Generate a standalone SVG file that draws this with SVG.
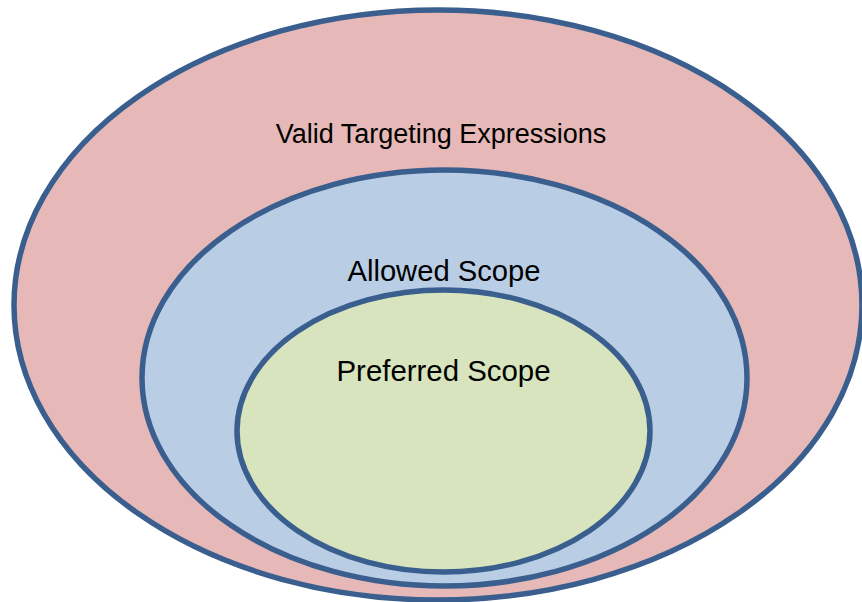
<svg xmlns="http://www.w3.org/2000/svg" width="862" height="602" viewBox="0 0 862 602">
<style>
.e{stroke:#3a5f8f;stroke-width:5.5}
.t{font-family:"Liberation Sans",Arial,sans-serif;fill:#000;text-anchor:middle}
</style>
<rect width="862" height="602" fill="#fff"/>
<g id="valid">
<ellipse class="e" cx="438" cy="305" rx="424" ry="295" fill="#e6b8b7"/>
<text class="t" x="441" y="143" font-size="27">Valid Targeting Expressions</text>
</g>
<g id="allowed">
<ellipse class="e" cx="444.5" cy="378" rx="302.5" ry="208" fill="#b9cde5"/>
<text class="t" x="444" y="281" font-size="29.2">Allowed Scope</text>
</g>
<g id="preferred">
<ellipse class="e" cx="443.5" cy="431" rx="206.5" ry="141" fill="#d7e4bd"/>
<text class="t" x="443.5" y="381" font-size="29.4">Preferred Scope</text>
</g>
<g id="connectors"/>
</svg>
